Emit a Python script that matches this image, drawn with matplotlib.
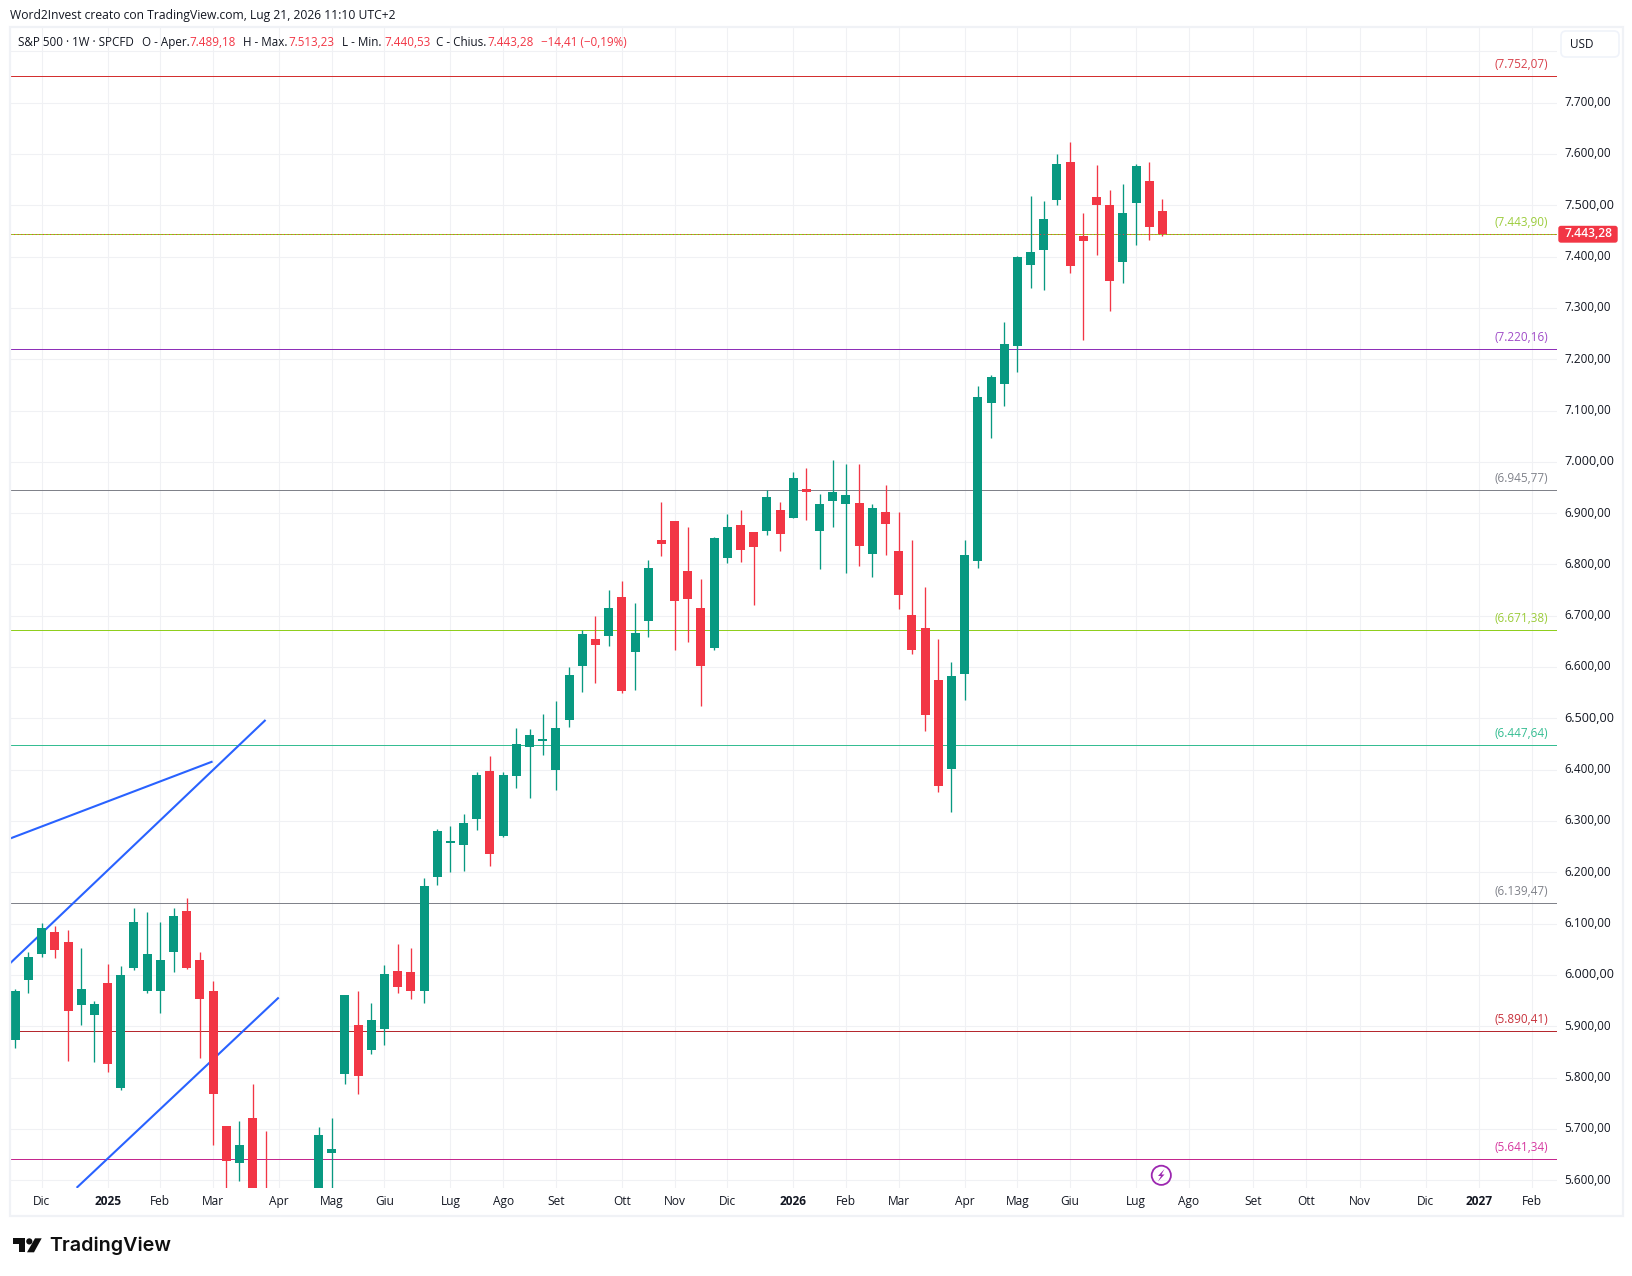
#!/usr/bin/env python3
import matplotlib
matplotlib.use('Agg')
import matplotlib.pyplot as plt
from matplotlib.patches import Circle, FancyBboxPatch, Polygon, Rectangle
from matplotlib.transforms import ScaledTranslation
import numpy as np

plt.rcParams['font.family'] = ['Open Sans', 'DejaVu Sans']

# weekly S&P 500 candles (the Apr 2025 ones run below the pane)
opens = [
    5874, 5991, 6039.8, 6084.6, 6065, 5940.4, 5920.9, 5983.3, 5780.5, 6012.5,
    5967.7, 5969.6, 6045.6, 6123.6, 6028.1, 5969.6, 5706.4, 5632.4, 5720.1, 5527,
    4953, 5441, 5232, 5529, 5653.8, 5805.9, 5903.3, 5852.7, 5895.5, 6006.7,
    6004.7, 5969.3, 6190.8, 6258, 6253.2, 6303.9, 6397.4, 6270.7, 6387.7, 6444.2,
    6455.9, 6399.4, 6496.9, 6602.2, 6654.8, 6660.7, 6735.7, 6628.5, 6688.9, 6846.8,
    6883.9, 6786.4, 6714.3, 6636.3, 6811.7, 6876.1, 6862.4, 6864.4, 6905.3, 6891.6,
    6946.2, 6864.4, 6922.8, 6917, 6918.9, 6819.5, 6903.3, 6825.4, 6700.6, 6675.3,
    6575.8, 6402.3, 6587.5, 6805.9, 7115.7, 7152.8, 7226.8, 7384.7, 7414, 7511.4,
    7583.6, 7441.3, 7517.3, 7501.7, 7390.6, 7505.6, 7548.5, 7489.18,
]
highs = [
    5973, 6045.6, 6102, 6094.4, 6086.6, 6051.5, 5950, 6022.2, 6016.4, 6129.5,
    6121.7, 6102.2, 6129.5, 6149, 6045.6, 5987.2, 5706.4, 5716.2, 5788.3, 5696.7,
    5481, 5460, 5528, 5702.6, 5722, 5959.9, 5969.6, 5944.3, 6018.4, 6061.2,
    6051.5, 6189, 6284.4, 6290.3, 6313.6, 6395.5, 6426.7, 6395.5, 6481.3, 6479.3,
    6508.6, 6533.9, 6600.2, 6672.3, 6699.6, 6750, 6766.9, 6725.9, 6807.8, 6920.9,
    6885, 6872.2, 6770.8, 6852.7, 6897.5, 6905.3, 6862.4, 6945.6, 6920.9, 6979.4,
    6987.2, 6936.5, 7002.8, 6995, 6995, 6917, 6954, 6903.3, 6846.8, 6755.2,
    6653.8, 6610.9, 6846.8, 7148.9, 7170.3, 7273.6, 7402.3, 7519.2, 7507.6, 7601.1,
    7622.6, 7484.2, 7579.7, 7530.9, 7542.6, 7581.6, 7583.6, 7513.23,
]
lows = [
    5856.6, 5965.7, 6034, 6032, 5833, 5903.3, 5831, 5809.8, 5774.7, 6008.6,
    5963.8, 5924.8, 6004.7, 6010.6, 5839, 5667.5, 5530, 5599.2, 5450, 5074,
    4835, 5220, 5101, 5433, 5578, 5786.4, 5768.8, 5844.9, 5862.4, 5963.8,
    5954, 5944.3, 6175.2, 6200.6, 6202.5, 6282.5, 6212.2, 6268.7, 6364.3, 6344.8,
    6428.6, 6360.4, 6483.3, 6551.5, 6569, 6641.1, 6550, 6556.3, 6657.7, 6815.6,
    6632.4, 6648, 6523.2, 6632.4, 6802, 6803.9, 6722, 6856.6, 6825.4, 6891,
    6887.7, 6790.3, 6872.2, 6782.5, 6796.1, 6776.6, 6817.6, 6712.3, 6624.6, 6474.5,
    6357.5, 6318.5, 6534.9, 6792.2, 7047.5, 7109.9, 7176.2, 7339.9, 7336, 7501.7,
    7369.1, 7238.5, 7404.2, 7295, 7349.6, 7423.7, 7433.5, 7440.53,
]
closes = [
    5969.6, 6034, 6092.4, 6049.5, 5930.6, 5971.6, 5944, 5825.4, 5998.9, 6102.2,
    6041.7, 6028.1, 6115.8, 6012.5, 5954, 5768.8, 5638.2, 5669.4, 5500, 5074,
    5363, 5282, 5525, 5687, 5661.6, 5959.9, 5802, 5913, 6000.8, 5975.5,
    5967.7, 6173.3, 6280.5, 6260.6, 6296, 6389.7, 6235.6, 6389.7, 6450, 6467.6,
    6459.8, 6481.3, 6584.6, 6664.6, 6643.1, 6715.2, 6553.1, 6665.5, 6792.2, 6839,
    6727.9, 6733.7, 6603.1, 6850.7, 6872.2, 6827.3, 6833.2, 6930.6, 6858.5, 6967.7,
    6940.4, 6917, 6940.4, 6934.5, 6835.1, 6911.1, 6878, 6739.6, 6632.4, 6505.7,
    6367.3, 6583.6, 6817.6, 7127.4, 7166.4, 7230.7, 7400.3, 7410.1, 7474.4, 7581.6,
    7382.8, 7431.5, 7499.8, 7353.5, 7484.2, 7577.7, 7456.9, 7443.28,
]

level_values = [7752.07, 7443.90, 7220.16, 6945.77, 6671.38, 6447.64, 6139.47, 5890.41, 5641.34]
level_colors = ['#d32f2f', '#8fce1e', '#8e2fb8', '#80828a', '#8fce1e', '#35bd92', '#80828a', '#b5282e', '#c4278e']
level_label_colors = ['#d8404a', '#9ccc3c', '#a04cc8', '#80828a', '#9ccc3c', '#35bd92', '#80828a', '#c8323c', '#d63aa0']

# drawn trend lines as (candle index, price) pairs
trend_a_x, trend_a_y = [-0.38, 14.96], [6266, 6416]
trend_b_x, trend_b_y = [-0.38, 18.98], [6023, 6497]
trend_c_x, trend_c_y = [4.65, 19.98], [5585, 5956]

month_labels = ['Dic', '2025', 'Feb', 'Mar', 'Apr', 'Mag', 'Giu', 'Lug', 'Ago', 'Set', 'Ott', 'Nov',
                'Dic', '2026', 'Feb', 'Mar', 'Apr', 'Mag', 'Giu', 'Lug', 'Ago', 'Set', 'Ott', 'Nov',
                'Dic', '2027', 'Feb']
month_ticks = [2, 7, 11, 15, 20, 24, 28, 33, 37, 41, 46, 50,
               54, 59, 63, 67, 72, 76, 80, 85, 89, 93.85, 97.9, 102,
               106.95, 111, 115]
price_ticks = list(range(5600, 7900, 100))

GREEN = '#089981'
RED = '#f23645'
TEXT = '#131722'
GRID = '#f0f1f4'
W, H = 1633, 1276


def it_num(v):
    return f'{v:,.2f}'.replace(',', ' ').replace('.', ',').replace(' ', '.')


fig = plt.figure(figsize=(W / 100, H / 100), dpi=100, facecolor='white')

L, R, T, B = 10.3, 1556.7, 26.5, 1187.5
ax = fig.add_axes([L / W, 1 - B / H, (R - L) / W, (B - T) / H])
ax.set_xlim(-0.379, 116.9)
ax.set_ylim(5585.6, 7848.7)
for s in ax.spines.values():
    s.set_visible(False)

ax.set_axisbelow(True)
ax.grid(True, color=GRID, linewidth=0.8)

ax.set_xticks(month_ticks)
ax.set_xticklabels(month_labels)
ax.tick_params(axis='x', length=0, pad=5.3, labelsize=8.6, labelcolor=TEXT)
for lab, txt in zip(ax.get_xticklabels(), month_labels):
    if txt.isdigit():
        lab.set_fontweight('bold')

ax.yaxis.tick_right()
ax.set_yticks(price_ticks)
ax.set_yticklabels(['' if p > 7700 else it_num(p) for p in price_ticks])
ax.tick_params(axis='y', length=0, pad=5.4, labelsize=8.5, labelcolor=TEXT)
nudge = ScaledTranslation(0, 1.6 / 100, fig.dpi_scale_trans)
for lab, p in zip(ax.get_yticklabels(), price_ticks):
    lab.set_transform(lab.get_transform() + nudge)
    if p % 500 == 0:
        lab.set_fontsize(9.1)

for val, col in zip(level_values, level_colors):
    ax.axhline(val, color=col, linewidth=0.72, zorder=2)

for tx, ty in [(trend_a_x, trend_a_y), (trend_b_x, trend_b_y), (trend_c_x, trend_c_y)]:
    ax.plot(tx, ty, color='#2962ff', linewidth=1.5, zorder=2.5, solid_capstyle='butt')

idx = np.arange(len(opens))
o, h, l, c = map(np.array, (opens, highs, lows, closes))
up = c >= o
cols = np.where(up, GREEN, RED)
ax.vlines(idx, l, h, colors=cols, linewidth=0.95, zorder=3)
ax.bar(idx, np.abs(c - o), bottom=np.minimum(o, c), width=0.683, color=cols, linewidth=0, zorder=4)

ax.axhline(closes[-1], color=RED, linewidth=0.72, linestyle=(0, (1, 2.6)), zorder=5)

# page overlay in pixel coordinates
page = fig.add_axes([0, 0, 1, 1], facecolor='none')
page.set_xlim(0, W)
page.set_ylim(H, 0)
page.axis('off')

page.add_patch(Rectangle((9.8, 26.5), 1613, 1189, fill=False, edgecolor='#f0f2f6', linewidth=1.6))

page.text(10, 15, 'Word2Invest creato con TradingView.com, Lug 21, 2026 11:10 UTC+2',
          fontsize=8.7, color=TEXT, va='center')

legend_bits = [
    (18, 'S&P 500 · 1W · SPCFD', TEXT), (142, 'O - Aper.', TEXT), (189, '7.489,18', RED),
    (243, 'H - Max.', TEXT), (288, '7.513,23', RED), (342, 'L - Min.', TEXT),
    (384, '7.440,53', RED), (436, 'C - Chius.', TEXT), (487, '7.443,28', RED),
    (541, '−14,41 (−0,19%)', RED),
]
for xp, txt, col in legend_bits:
    page.text(xp, 42.7, txt, fontsize=8.4, color=col, va='center')

px_per_pt = (B - T) / (7848.7 - 5585.6)
for val, col in zip(level_values, level_label_colors):
    yp = T + (7848.7 - val) * px_per_pt
    page.text(1548, yp - 11.6, '(' + it_num(val) + ')', fontsize=8.5, color=col, ha='right', va='center')

# last price tag and currency button
tag_y = T + (7848.7 - closes[-1]) * px_per_pt
page.add_patch(FancyBboxPatch((1559, tag_y - 8), 58, 15.5, boxstyle='round,pad=0,rounding_size=2',
                              facecolor=RED, edgecolor=RED, linewidth=1))
page.text(1565, tag_y - 0.6, it_num(closes[-1]), fontsize=8.7, color='white', va='center', fontweight='semibold')
page.add_patch(FancyBboxPatch((1561, 31), 58, 26, boxstyle='round,pad=0,rounding_size=5',
                              facecolor='white', edgecolor='#f0f3fa', linewidth=1.2))
page.text(1570, 44.5, 'USD', fontsize=8.5, color=TEXT, va='center')

# lightning marker
page.add_patch(Circle((1161.3, 1175.3), 9.6, fill=False, edgecolor='#9c27b0', linewidth=1.3))
page.add_patch(Polygon([(1164.5, 1169), (1158, 1176), (1161, 1176), (1158, 1181.5), (1164.5, 1174.5), (1161.5, 1174.5)],
                       facecolor='#9c27b0', edgecolor='none'))

# logo
page.add_patch(Polygon([(12.7, 1238.3), (25, 1238.3), (25, 1252.3), (19.3, 1252.3), (19.3, 1244), (12.7, 1244)],
                       facecolor='#0f0f0f', edgecolor='none'))
page.add_patch(Circle((29.3, 1241.4), 3.1, facecolor='#0f0f0f', edgecolor='none'))
page.add_patch(Polygon([(35, 1238.3), (41.7, 1238.3), (34, 1252.3), (27, 1252.3)],
                       facecolor='#0f0f0f', edgecolor='none'))
page.text(49.5, 1246, 'TradingView', fontsize=14.2, color='#0f0f0f', family='Inter', fontweight='semibold', va='center')

fig.savefig('out.png', dpi=100)
